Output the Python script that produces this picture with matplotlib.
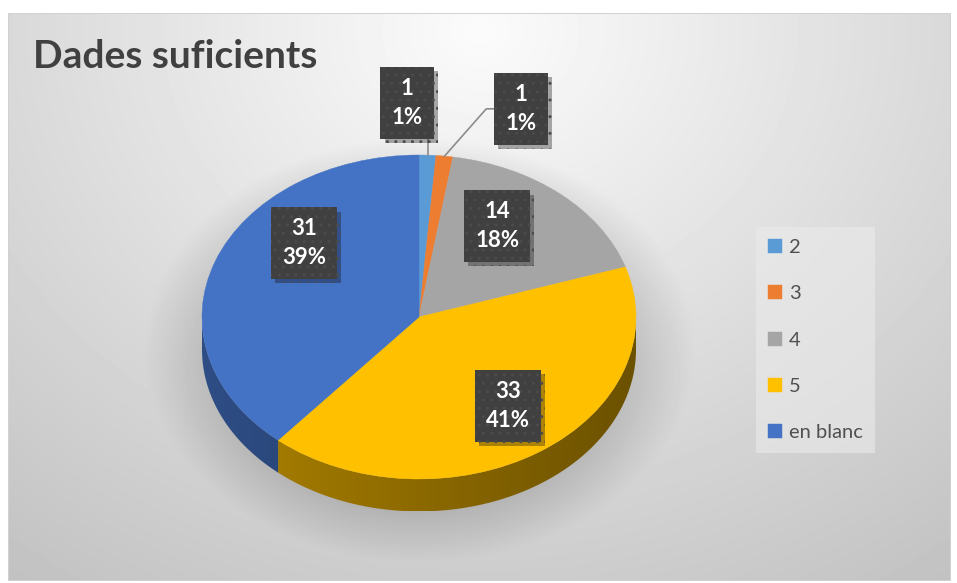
import numpy as np
import matplotlib.pyplot as plt
from matplotlib.patches import Polygon
from matplotlib.colors import to_rgb
from matplotlib import patheffects as pe

# data
categories = ['2', '3', '4', '5', 'en blanc']
counts = [1, 1, 14, 33, 31]
colors = ['#5B9BD5', '#ED7D31', '#A5A5A5', '#FFC000', '#4472C4']
title = 'Dades suficients'

# layout (pixels of the 957x583 image)
W, H = 957, 583
cx, cy, rx, ry = 419, 317, 217, 162   # top face of the pie
depth = 0.2                           # wall height, in pie radii (y)
# label centres, in pie radii
label_pos = [(-0.055, 1.32), (0.47, 1.285), (0.36, 0.56), (0.41, -0.55), (-0.53, 0.455)]
font = 'Lato'

fig = plt.figure(figsize=(W / 100, H / 100), dpi=100)

# background: soft radial grey + pie shadow
yy, xx = np.mgrid[0:H, 0:W]
bg = 0.985 - 0.2 * np.hypot((xx - 480) / 700, (yy - 30) / 600)
sh = np.hypot((xx - 419) / 240, (yy - 350) / 185)
bg -= 0.13 * np.clip((1.15 - sh) / 0.3, 0, 1)
inside = (xx >= 8) & (xx <= 950) & (yy >= 13) & (yy <= 580)
bg = np.where(inside, bg, 1.0)
edge = inside & ((xx == 8) | (xx == 950) | (yy == 13) | (yy == 580))
bg = np.where(edge, 0.82, bg)
bax = fig.add_axes([0, 0, 1, 1])
bax.imshow(bg, cmap='gray', vmin=0, vmax=1, aspect='auto', interpolation='bilinear')
bax.axis('off')

# pie axes, squashed into an ellipse
pax = fig.add_axes([0, 0, 1, 1])
pax.patch.set_alpha(0)
wedges, _ = pax.pie(counts, colors=colors, startangle=90, counterclock=False,
                    wedgeprops=dict(linewidth=0.3, edgecolor='none'))
for w, c in zip(wedges, colors):
    w.set_edgecolor(c)
pax.set_aspect('auto')
pax.axis('off')

# side walls (front half only), shaded left to right
total = sum(counts)
edges = np.concatenate([[0], np.cumsum(counts)]) * 360 / total
gx = np.linspace(-1, 1, 400)
shade = 0.68 - 0.13 * (gx + 1)
for i, c in enumerate(colors):
    lo, hi = max(edges[i], 90), min(edges[i + 1], 270)
    if lo >= hi:
        continue
    phi = np.radians(90 - np.linspace(lo, hi, 200))
    top = np.column_stack([np.cos(phi), np.sin(phi)])
    bot = top[::-1] - [0, depth]
    wall = Polygon(np.vstack([top, bot]), closed=True, fc='none', ec='none')
    pax.add_patch(wall)
    grad = np.array(to_rgb(c))[None, None, :] * shade[None, :, None]
    im = pax.imshow(np.repeat(grad, 2, axis=0), extent=(-1, 1, -1 - depth, 0.05),
                    aspect='auto', interpolation='bilinear', zorder=0.5)
    im.set_clip_path(wall)
pax.set_xlim((0 - cx) / rx, (W - cx) / rx)
pax.set_ylim((cy - H) / ry, cy / ry)

# data labels
for i, (n, (lx, ly)) in enumerate(zip(counts, label_pos)):
    mid = np.radians((edges[i] + edges[i + 1]) / 2)
    if ly > 1:
        ex, ey = np.sin(mid), np.cos(mid)
        if i == 0:
            pax.plot([ex, ex], [ey, ly], color='#8C8C8C', lw=1.2, zorder=2)
        else:
            pax.plot([ex, lx - 0.16, lx], [ey, ly, ly], color='#8C8C8C', lw=1.2, zorder=2)
    t = pax.text(lx, ly, f'{n}\n{round(100 * n / total)}%', ha='center', va='center',
                 color='white', fontsize=16, fontweight='bold', family=font,
                 linespacing=1.45, zorder=3,
                 bbox=dict(boxstyle='square,pad=0.5', fc='#404040', ec='#4B4B4B',
                           lw=0, hatch='..'))
    t.get_bbox_patch().set_path_effects([pe.SimplePatchShadow(offset=(3, -3), alpha=0.35),
                                         pe.Normal()])

fig.text(33 / W, 1 - 57 / H, title, fontsize=28, fontweight='bold', color='#404040',
         va='center', ha='left', family=font)

fig.legend(wedges, categories, loc='upper left', bbox_to_anchor=(756 / W, 1 - 227 / H),
           frameon=True, facecolor='#EBEBEB', edgecolor='none', framealpha=0.6,
           fancybox=False, prop=dict(family=font, size=14.5), labelcolor='#505050',
           labelspacing=1.45, handlelength=0.7, handleheight=0.7, handletextpad=0.35,
           borderpad=0.6, borderaxespad=0)

fig.savefig('out.png', dpi=100)
